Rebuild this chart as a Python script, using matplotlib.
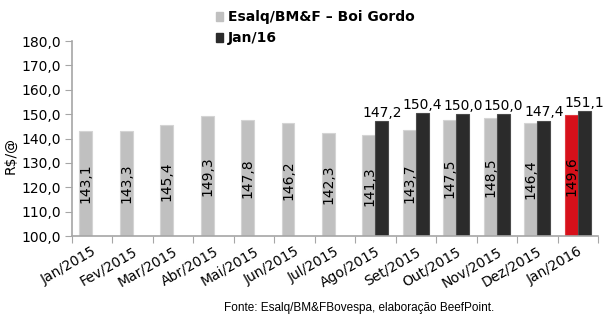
import matplotlib
matplotlib.use("Agg")
import matplotlib.pyplot as plt
import numpy as np
from matplotlib.patches import Patch

meses = ["Jan/2015", "Fev/2015", "Mar/2015", "Abr/2015", "Mai/2015", "Jun/2015",
         "Jul/2015", "Ago/2015", "Set/2015", "Out/2015", "Nov/2015", "Dez/2015",
         "Jan/2016"]
esalq = [143.1, 143.3, 145.4, 149.3, 147.8, 146.2, 142.3, 141.3, 143.7, 147.5,
         148.5, 146.4, 149.6]
jan16 = [None, None, None, None, None, None, None, 147.2, 150.4, 150.0, 150.0,
         147.4, 151.1]

GRAY = "#c0c0c0"
DARK = "#2b2b2b"
RED = "#d7101a"
AXIS = "#a6a6a6"


def fmt(v):
    return f"{v:.1f}".replace(".", ",")


fig = plt.figure(figsize=(6.09, 3.23), dpi=100)
ax = fig.add_axes([0.118, 0.269, 0.864, 0.604])

x = np.arange(len(meses))
w = 0.32
base = 100.0

gray_colors = [GRAY] * (len(meses) - 1) + [RED]
gray_edges = ["#d4d4d4"] * (len(meses) - 1) + ["#e03a40"]
ax.bar(x - w / 2, [v - base for v in esalq], w, bottom=base, color=gray_colors,
       edgecolor=gray_edges, linewidth=0.8, zorder=2)

idx = [i for i, v in enumerate(jan16) if v is not None]
vals = [jan16[i] for i in idx]
ax.bar(x[idx] + w / 2, [v - base for v in vals], w, bottom=base, color=DARK,
       edgecolor="#4a4a4a", linewidth=0.8, zorder=2)

for i, v in enumerate(esalq):
    ax.text(x[i] - w / 2, (base + v) / 2, fmt(v), rotation=90, ha="center",
            va="center", fontsize=10, color="black", zorder=3)
for i, v in zip(idx, vals):
    ax.text(x[i] + w / 2, v + 0.6, fmt(v), ha="center", va="bottom",
            fontsize=10, color="black", zorder=3)

ax.set_ylim(100, 180)
ax.set_xlim(-0.5, len(meses) - 0.5)
ax.set_yticks(np.arange(100, 181, 10))
ax.set_yticklabels([fmt(v) for v in np.arange(100, 181, 10)], fontsize=10)
ax.set_xticks(np.arange(-0.5, len(meses), 1.0))
ax.set_xticklabels([])
ax.set_xticks(x, minor=True)
ax.set_xticklabels(meses, minor=True, rotation=30, ha="right",
                   rotation_mode="anchor", fontsize=10)
ax.tick_params(axis="x", which="minor", length=0, pad=6)
ax.tick_params(axis="x", which="major", length=5, color=AXIS)
ax.tick_params(axis="y", length=5, color=AXIS, pad=3)

for s in ["top", "right"]:
    ax.spines[s].set_visible(False)
for s in ["left", "bottom"]:
    ax.spines[s].set_color(AXIS)
    ax.spines[s].set_linewidth(1.2)

fig.text(0.018, 0.52, "R$/@", rotation=90, ha="center", va="center", fontsize=10)

handles = [Patch(facecolor=GRAY, edgecolor=GRAY),
           Patch(facecolor=DARK, edgecolor=DARK)]
fig.legend(handles, ["Esalq/BM&F \u2013 Boi Gordo", "Jan/16"],
           loc="upper left", bbox_to_anchor=(0.345, 0.985), frameon=False,
           prop={"weight": "bold", "size": 10}, handlelength=0.55,
           handleheight=0.55, handletextpad=0.35, labelspacing=0.5,
           borderaxespad=0.0)

fig.text(0.59, 0.045, "Fonte: Esalq/BM&FBovespa, elabora\u00e7\u00e3o BeefPoint.",
         ha="center", va="center", fontsize=8.5, family="Liberation Sans")

fig.savefig("out.png", dpi=100)
